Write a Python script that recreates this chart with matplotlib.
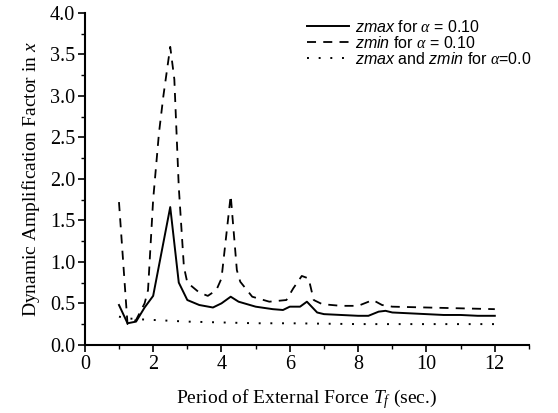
import matplotlib.pyplot as plt
from matplotlib.ticker import MultipleLocator

# period of external force (sec.)
t_max = [1.0, 1.25, 1.5, 1.75, 2.0, 2.5, 2.75, 3.0, 3.35, 3.75, 4.0, 4.27, 4.5,
         5.0, 5.5, 5.8, 6.0, 6.3, 6.5, 6.8, 7.0, 7.5, 8.0, 8.3, 8.6, 8.8, 9.0,
         9.5, 10.0, 10.5, 11.0, 11.5, 12.0]
zmax_a01 = [0.48, 0.26, 0.28, 0.45, 0.59, 1.66, 0.75, 0.54, 0.48, 0.45, 0.5, 0.58, 0.52,
            0.46, 0.43, 0.42, 0.46, 0.46, 0.52, 0.39, 0.37, 0.36, 0.35, 0.35, 0.40, 0.41, 0.39,
            0.38, 0.37, 0.36, 0.36, 0.35, 0.35]

t_min = [1.0, 1.25, 1.5, 1.75, 1.85, 2.0, 2.17, 2.3, 2.5, 2.62, 2.75, 2.9, 3.0, 3.35, 3.6,
         3.85, 4.0, 4.27, 4.45, 4.55, 4.9, 5.4, 5.9, 6.1, 6.35, 6.55, 6.7, 6.95, 7.5,
         8.0, 8.43, 8.7, 9.0, 10.0, 11.0, 12.0]
zmin_a01 = [1.72, 0.25, 0.3, 0.5, 0.66, 1.75, 2.55, 3.0, 3.59, 3.2, 1.9, 0.94, 0.75, 0.63, 0.59,
            0.66, 0.8, 1.8, 0.9, 0.76, 0.58, 0.52, 0.54, 0.68, 0.83, 0.8, 0.54, 0.49, 0.47,
            0.47, 0.54, 0.48, 0.46, 0.45, 0.44, 0.43]

t_zero = [1.0, 1.25, 1.5, 2.0, 3.0, 4.0, 5.0, 6.0, 8.0, 10.0, 12.0]
z_a00 = [0.34, 0.32, 0.31, 0.30, 0.28, 0.27, 0.26, 0.26, 0.25, 0.25, 0.25]

plt.rcParams['font.family'] = ['Liberation Serif', 'DejaVu Serif']
plt.rcParams['mathtext.fontset'] = 'custom'
plt.rcParams['mathtext.it'] = 'Liberation Serif:italic'
plt.rcParams['mathtext.rm'] = 'Liberation Serif'
plt.rcParams['mathtext.sf'] = 'Liberation Sans:italic'

fig = plt.figure(figsize=(5.58, 4.13), dpi=100)
ax = fig.add_axes([0.152, 0.165, 0.796, 0.804])

ax.plot(t_max, zmax_a01, color='black', lw=1.4, label=r'$\mathsf{zmax}$ for $\alpha$ = 0.10')
ax.plot(t_min, zmin_a01, color='black', lw=1.3, linestyle=(0, (5, 4)),
        label=r'$\mathsf{zmin}$ for $\alpha$ = 0.10')
ax.plot(t_zero, z_a00, color='black', lw=1.4, linestyle=(0, (1, 5)),
        label=r'$\mathsf{zmax}$ and $\mathsf{zmin}$ for $\alpha$=0.0')

ax.set_xlim(0, 13)
ax.set_ylim(0, 4.0)
ax.xaxis.set_major_locator(MultipleLocator(2))
ax.xaxis.set_minor_locator(MultipleLocator(1))
ax.yaxis.set_major_locator(MultipleLocator(0.5))
ax.yaxis.set_minor_locator(MultipleLocator(0.25))
ax.set_xticks(range(0, 13, 2))
ax.set_yticks([0.0, 0.5, 1.0, 1.5, 2.0, 2.5, 3.0, 3.5, 4.0])
ax.set_yticklabels(['0.0', '0.5', '1.0', '1.5', '2.0', '2.5', '3.0', '3.5', '4.0'])
ax.tick_params(which='major', direction='out', length=5, width=1.2, labelsize=14.5, pad=2)
ax.tick_params(which='minor', direction='out', length=3, width=1.0)
ax.spines['top'].set_visible(False)
ax.spines['right'].set_visible(False)
ax.spines['left'].set_linewidth(1.5)
ax.spines['bottom'].set_linewidth(1.5)

ax.set_xlabel(r'Period of External Force $T_f$ (sec.)', fontsize=14, labelpad=10)
ax.set_ylabel(r'Dynamic Amplification Factor in $x$', fontsize=14, labelpad=6)

leg = ax.legend(loc='upper left', bbox_to_anchor=(0.475, 1.015), frameon=False,
                prop={'family': 'Liberation Sans', 'size': 11.5}, handlelength=2.6,
                handletextpad=0.4, labelspacing=0.0, borderaxespad=0.3)

fig.savefig('out.png', dpi=100)
